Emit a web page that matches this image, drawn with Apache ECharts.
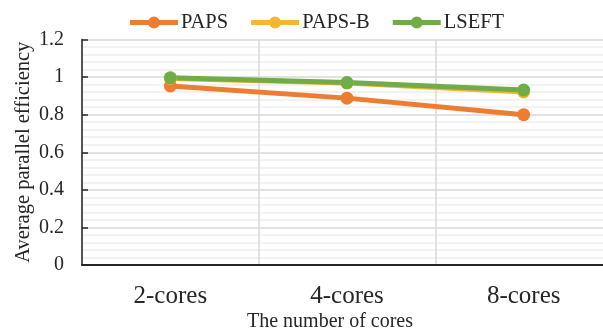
<!DOCTYPE html>
<html>
<head>
<meta charset="utf-8">
<script src="https://cdn.jsdelivr.net/npm/echarts@6/dist/echarts.min.js"></script>
<style>html,body{margin:0;padding:0;background:#fff}#c{width:603px;height:336px}</style>
</head>
<body>
<div id="c"></div>
<script>
var categories = ['2-cores', '4-cores', '8-cores'];
var papsValues = [0.953, 0.888, 0.800];
var papsBValues = [0.993, 0.968, 0.921];
var lseftValues = [0.996, 0.971, 0.931];
var seriesNames = ['PAPS', 'PAPS-B', 'LSEFT'];
var yTicks = { min: 0, max: 1.2, interval: 0.2 };

var FONT = '"Liberation Serif", "Times New Roman", serif';
var colors = ['#ED7D31', '#F6B72E', '#70AD47'];
var LEGEND_ICON = 'path://M0,3.6L48,3.6L48,8.4L0,8.4Z M18,6A6,6 0 1,1 30,6A6,6 0 1,1 18,6Z';
var chart = echarts.init(document.getElementById('c'));
function mk(name, data, color) {
  return {
    name: name, type: 'line', data: data,
    symbol: 'circle', symbolSize: 13,
    lineStyle: { width: 5, color: color },
    itemStyle: { color: color },
    emphasis: { disabled: true },
    animation: false
  };
}
chart.setOption({
  animation: false,
  textStyle: { fontFamily: FONT },
  legend: {
    left: 130, top: 12, padding: 0,
    itemWidth: 48, itemHeight: 12, itemGap: 23,
    icon: LEGEND_ICON,
    textStyle: { fontFamily: FONT, fontSize: 20.5, color: '#262626', padding: [0, 0, 0, -2] },
    data: seriesNames
  },
  grid: { left: 82, right: -9, top: 39.5, bottom: 71, containLabel: false, outerBoundsMode: 'none' },
  xAxis: {
    type: 'category', data: categories, boundaryGap: true,
    axisLine: { show: true, lineStyle: { color: '#262626', width: 2 } },
    axisTick: { show: false },
    splitLine: { show: true, lineStyle: { color: '#d9d9d9', width: 1.5 } },
    axisLabel: { fontFamily: FONT, fontSize: 25, color: '#262626', margin: 19 },
    name: 'The number of cores', nameLocation: 'middle', nameGap: 47, nameMoveOverlap: false,
    nameTextStyle: { fontFamily: FONT, fontSize: 20, color: '#262626', padding: [0, 34, 0, 0] }
  },
  yAxis: {
    type: 'value', min: yTicks.min, max: yTicks.max, interval: yTicks.interval,
    axisLine: { show: true, lineStyle: { color: '#262626', width: 1.5 } },
    axisTick: { show: true, inside: true, length: 6, lineStyle: { color: '#262626', width: 1.5 } },
    splitLine: { show: true, lineStyle: { color: '#d9d9d9', width: 1.5 } },
    minorTick: { show: false, splitNumber: 5 },
    minorSplitLine: { show: true, lineStyle: { color: '#eeeeee', width: 1.5 } },
    axisLabel: { fontFamily: FONT, fontSize: 20, color: '#262626', margin: 18,
      formatter: function (v) { return String(Math.round(v * 10) / 10); } },
    name: 'Average parallel efficiency', nameLocation: 'middle', nameGap: 48, nameMoveOverlap: false,
    nameTextStyle: { fontFamily: FONT, fontSize: 20.5, color: '#262626' }
  },
  series: [
    mk(seriesNames[0], papsValues, colors[0]),
    mk(seriesNames[1], papsBValues, colors[1]),
    mk(seriesNames[2], lseftValues, colors[2])
  ]
});
</script>
</body>
</html>
